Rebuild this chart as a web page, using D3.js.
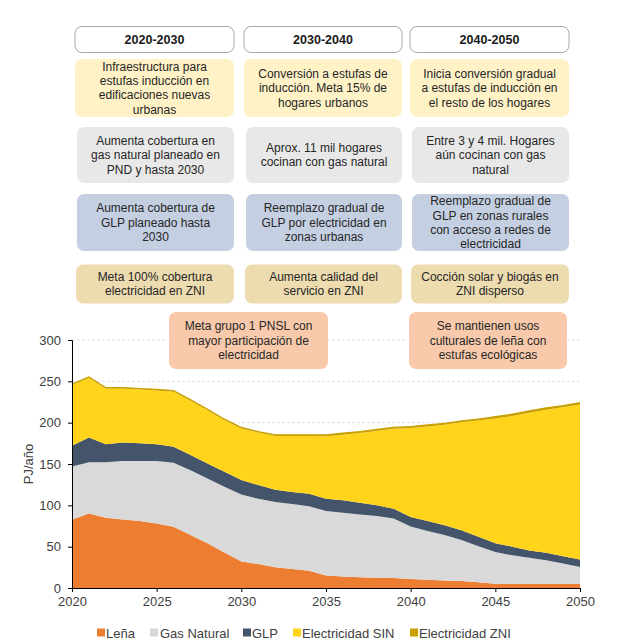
<!DOCTYPE html>
<html>
<head>
<meta charset="utf-8">
<script src="https://cdn.jsdelivr.net/npm/d3@7"></script>
<style>
  body { margin: 0; background: #fff; }
  svg { display: block; font-family: "Liberation Sans", Arial, sans-serif; }
  .box-text { font-size: 12px; fill: #262626; }
  .head-text { font-size: 12.5px; font-weight: bold; fill: #1a1a1a; }
  .tick text { font-size: 13px; fill: #404040; font-family: "Liberation Sans", Arial, sans-serif; }
  .legend text { font-size: 13px; fill: #404040; }
</style>
</head>
<body>
<div id="chart"></div>
<script>
  const years = d3.range(2020, 2051);
  const lena = [83, 90, 85, 83, 81, 78, 74, 64, 54, 43, 32, 29, 25, 23, 21, 15, 14, 13, 12.5, 12, 11, 10, 9, 8.5, 7, 5, 5, 5, 5, 5, 5];
  const gasNatural = [64, 62, 67, 70.5, 72.5, 75.5, 77.5, 78.5, 78.5, 79.5, 81, 79, 79, 78.5, 78, 78, 77, 76, 74.5, 72, 63.5, 59, 55, 49.5, 43.5, 38.5, 34.5, 31.5, 28.5, 24.5, 20.5];
  const glp = [25, 30, 22, 22.5, 21.5, 20.5, 19.5, 18.5, 18, 18, 17.5, 16.5, 15, 14.5, 15, 15, 15, 14, 13, 12, 11.5, 12, 12, 12, 11.5, 10.5, 10.5, 9, 9, 9, 9];
  const elecSIN = [73.5, 72, 67, 65, 65, 65, 66.5, 65.5, 64.5, 62.5, 62.5, 63.5, 65, 68, 70, 75.5, 79.5, 84.5, 90, 96.5, 107.5, 114.5, 121.5, 130.5, 140.5, 151, 158, 166.5, 173, 180, 187.5];
  const elecZNI = [2, 2, 2, 2, 2, 2, 2, 2, 2, 2, 2, 2, 2, 2, 2, 2.5, 2.5, 2.5, 2.5, 2.5, 2.5, 2.5, 2.5, 2.5, 2.5, 3, 3, 3, 3, 3, 3];

  const seriesNames = ["Leña", "Gas Natural", "GLP", "Electricidad SIN", "Electricidad ZNI"];
  const seriesColors = ["#ED7D31", "#D9D9D9", "#44546A", "#FFD41A", "#C9A000"];
  const yTicks = [0, 50, 100, 150, 200, 250, 300];
  const xTicks = [2020, 2025, 2030, 2035, 2040, 2045, 2050];

  const headers = ["2020-2030", "2030-2040", "2040-2050"];
  // one row of text boxes per topic, one entry per period
  const rowInduccion = [
    ["Infraestructura para", "estufas inducción en", "edificaciones nuevas", "urbanas"],
    ["Conversión a estufas de", "inducción. Meta 15% de", "hogares urbanos"],
    ["Inicia conversión gradual", "a estufas de inducción en", "el resto de los hogares"]
  ];
  const rowGas = [
    ["Aumenta cobertura en", "gas natural planeado en", "PND y hasta 2030"],
    ["Aprox. 11 mil hogares", "cocinan con gas natural"],
    ["Entre 3 y 4 mil. Hogares", "aún cocinan con gas", "natural"]
  ];
  const rowGLP = [
    ["Aumenta cobertura de", "GLP planeado hasta", "2030"],
    ["Reemplazo gradual de", "GLP por electricidad en", "zonas urbanas"],
    ["Reemplazo gradual de", "GLP en zonas rurales", "con acceso a redes de", "electricidad"]
  ];
  const rowZNI = [
    ["Meta 100% cobertura", "electricidad en ZNI"],
    ["Aumenta calidad del", "servicio en ZNI"],
    ["Cocción solar y biogás en", "ZNI disperso"]
  ];
  const rowLena = [
    ["Meta grupo 1 PNSL con", "mayor participación de", "electricidad"],
    ["Se mantienen usos", "culturales de leña con", "estufas ecológicas"]
  ];

  const width = 618, height = 644;
  const margin = { top: 340, right: 38, bottom: 56, left: 72 };

  const svg = d3.select("#chart").append("svg")
    .attr("width", width)
    .attr("height", height);

  const x = d3.scaleLinear().domain([2020, 2050]).range([margin.left, width - margin.right]);
  const y = d3.scaleLinear().domain([0, 300]).range([height - margin.bottom, margin.top]);

  // grid
  svg.append("g")
    .selectAll("line")
    .data(yTicks.filter(d => d > 0))
    .join("line")
    .attr("x1", x(2020))
    .attr("x2", x(2050))
    .attr("y1", d => y(d))
    .attr("y2", d => y(d))
    .attr("stroke", "#d9d9d9")
    .attr("stroke-width", 0.8)
    .attr("stroke-dasharray", "3,2");

  const table = years.map((yr, i) => ({
    year: yr,
    "Leña": lena[i],
    "Gas Natural": gasNatural[i],
    "GLP": glp[i],
    "Electricidad SIN": elecSIN[i],
    "Electricidad ZNI": elecZNI[i]
  }));

  const stacked = d3.stack().keys(seriesNames)(table);
  const area = d3.area()
    .x(d => x(d.data.year))
    .y0(d => y(d[0]))
    .y1(d => y(d[1]));

  svg.append("g")
    .selectAll("path")
    .data(stacked)
    .join("path")
    .attr("d", area)
    .attr("fill", (d, i) => seriesColors[i]);

  // axes
  const xAxis = svg.append("g")
    .attr("transform", `translate(0,${y(0)})`)
    .call(d3.axisBottom(x).tickValues(xTicks).tickFormat(d3.format("d")).tickSize(4).tickPadding(5));
  xAxis.select(".domain").attr("stroke", "#000");
  xAxis.selectAll(".tick line").attr("stroke", "#000");

  const yAxis = svg.append("g")
    .attr("transform", `translate(${x(2020)},0)`)
    .call(d3.axisLeft(y).tickValues(yTicks).tickSize(4).tickPadding(7));
  yAxis.select(".domain").attr("stroke", "#000");
  yAxis.selectAll(".tick line").attr("stroke", "#000");

  svg.append("text")
    .attr("transform", `translate(33,${y(150)}) rotate(-90)`)
    .attr("text-anchor", "middle")
    .attr("font-size", 13)
    .attr("fill", "#404040")
    .text("PJ/año");

  // legend
  const legendX = [97, 150, 243, 293, 410];
  const legend = svg.append("g").attr("class", "legend");
  const li = legend.selectAll("g")
    .data(seriesNames)
    .join("g")
    .attr("transform", (d, i) => `translate(${legendX[i]},633)`);
  li.append("rect")
    .attr("x", 0).attr("y", -4.5)
    .attr("width", 8).attr("height", 8)
    .attr("fill", (d, i) => seriesColors[i]);
  li.append("text")
    .attr("x", (d, i) => i === 1 ? 10 : 9)
    .attr("dy", "0.35em")
    .text(d => d);

  // timeline boxes
  const cols = [
    { x0: 75, x1: 234 },
    { x0: 244, x1: 402 },
    { x0: 410, x1: 569 }
  ];

  function drawBox(x0, x1, y0, y1, fill, stroke, lines, cls) {
    const g = svg.append("g");
    g.append("rect")
      .attr("x", x0).attr("y", y0)
      .attr("width", x1 - x0).attr("height", y1 - y0)
      .attr("rx", 7)
      .attr("fill", fill)
      .attr("stroke", stroke || "none")
      .attr("stroke-width", stroke ? 1 : 0);
    const lh = 14.3;
    const cy = (y0 + y1) / 2;
    const startY = cy - (lines.length - 1) * lh / 2;
    g.append("text")
      .attr("class", cls)
      .attr("text-anchor", "middle")
      .selectAll("tspan")
      .data(lines)
      .join("tspan")
      .attr("x", (x0 + x1) / 2)
      .attr("y", (d, i) => startY + i * lh)
      .attr("dy", "0.35em")
      .text(d => d);
  }

  headers.forEach((h, i) => drawBox(cols[i].x0, cols[i].x1, 26.5, 52.5, "#fff", "#a6a6a6", [h], "head-text"));
  rowInduccion.forEach((t, i) => drawBox(cols[i].x0, cols[i].x1, 59, 117, "#FFF2C7", null, t, "box-text"));
  rowGas.forEach((t, i) => drawBox(cols[i].x0 + 2, cols[i].x1, 127, 183, "#E8E8E8", null, t, "box-text"));
  rowGLP.forEach((t, i) => drawBox(cols[i].x0 + 2, cols[i].x1, 194, 251, "#C4CFE2", null, t, "box-text"));
  rowZNI.forEach((t, i) => drawBox(cols[i].x0 + 1, cols[i].x1, 264.5, 303.5, "#EDDCAF", null, t, "box-text"));
  const lenaCols = [{ x0: 169, x1: 328 }, { x0: 409, x1: 567 }];
  rowLena.forEach((t, i) => drawBox(lenaCols[i].x0, lenaCols[i].x1, 312, 369, "#F8CAAB", null, t, "box-text"));
</script>
</body>
</html>
